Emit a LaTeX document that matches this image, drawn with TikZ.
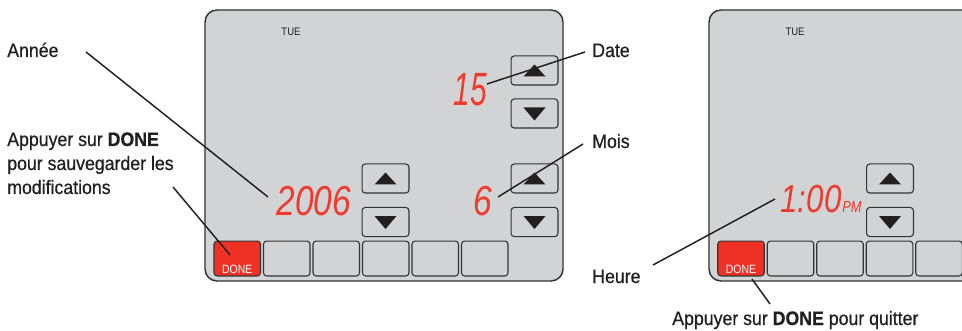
\documentclass[tikz,border=0pt]{standalone}
\usepackage{fontspec}
\setmainfont{Liberation Sans}[FakeStretch=0.91,FakeBold=0.6]
\newfontfamily\segfont{Liberation Sans}[FakeStretch=0.8]
\newfontfamily\smallfont{Liberation Sans}[FakeStretch=0.87]
\definecolor{panelgray}{HTML}{D1D3D4}
\definecolor{edgecol}{HTML}{333333}
\definecolor{donered}{HTML}{EE3124}
\definecolor{segred}{HTML}{EF3B2D}
\definecolor{txt}{HTML}{231F20}
\begin{document}
\begin{tikzpicture}[x=0.75pt,y=-0.75pt,
  panel/.style={draw=edgecol,line width=1.1pt,fill=panelgray,rounded corners=9pt},
  btn/.style={draw=edgecol,line width=0.8pt,fill=panelgray,rounded corners=2.4pt,
    minimum width=34.9pt,minimum height=26.2pt,inner sep=0pt},
  donebtn/.style={btn,fill=donered},
  arrbtn/.style={btn,minimum height=21.8pt,minimum width=35.2pt},
  tri/.style={fill=txt,draw=none},
  lab/.style={font=\fontsize{14.6}{18}\selectfont,text=txt,anchor=base west,inner sep=0pt,align=left},
  day/.style={font=\smallfont\fontsize{8.2}{9}\selectfont,text=txt,inner sep=0pt},
  donetxt/.style={font=\smallfont\fontsize{9}{10}\selectfont,text=white,anchor=base,inner sep=0pt},
  seg/.style={text=segred,anchor=base,inner sep=0pt},
  leader/.style={draw=txt,line width=1.1pt}]
\clip (0,0) rectangle (962,331);
\fill[white] (0,0) rectangle (962,331);

% ---------- left panel ----------
\draw[panel] (205,10) rectangle (563,281);
\node[day] (tue1) at (291,32) {TUE};

\node[donebtn] (b1) at (237.25,258.5) {};
\node[donetxt] (done1) at (237.25,273) {DONE};
\node[btn] (b2) at (286.75,258.5) {};
\node[btn] (b3) at (336.25,258.5) {};
\node[btn] (b4) at (385.75,258.5) {};
\node[btn] (b5) at (435.25,258.5) {};
\node[btn] (b6) at (484.75,258.5) {};

\node[arrbtn] (yup) at (385.5,178.5) {};
\node[arrbtn] (ydn) at (385.5,222) {};
\node[arrbtn] (dup) at (534.5,70.5) {};
\node[arrbtn] (ddn) at (534.5,113.5) {};
\node[arrbtn] (mup) at (534.5,178.5) {};
\node[arrbtn] (mdn) at (534.5,222) {};

\foreach \n in {yup,dup,mup}{
  \fill[tri] ([shift={(-11,6)}]\n.center) -- ([shift={(11,6)}]\n.center) -- ([shift={(0,-6)}]\n.center) -- cycle;}
\foreach \n in {ydn,ddn,mdn}{
  \fill[tri] ([shift={(-11,-6)}]\n.center) -- ([shift={(11,-6)}]\n.center) -- ([shift={(0,7)}]\n.center) -- cycle;}

\node[seg,font=\segfont\itshape\fontsize{35}{40}\selectfont] (date) at (470,106) {\scalebox{0.8}[1]{15}};
\node[seg,font=\segfont\itshape\fontsize{31.4}{34}\selectfont] (year) at (314,215) {2006};
\node[seg,font=\segfont\itshape\fontsize{31.4}{34}\selectfont] (month) at (483,215) {6};

% ---------- right panel ----------
\draw[panel] (709,10) rectangle (1010,281);
\node[day] (tue2) at (795,32) {TUE};
\node[donebtn] (c1) at (741,258.5) {};
\node[donetxt] (done2) at (741,273) {DONE};
\node[btn] (c2) at (790.5,258.5) {};
\node[btn] (c3) at (840,258.5) {};
\node[btn] (c4) at (889.5,258.5) {};
\node[btn] (c5) at (939,258.5) {};
\node[arrbtn] (hup) at (890,178.5) {};
\node[arrbtn] (hdn) at (890,222) {};
\fill[tri] ([shift={(-11,6)}]hup.center) -- ([shift={(11,6)}]hup.center) -- ([shift={(0,-6)}]hup.center) -- cycle;
\fill[tri] ([shift={(-11,-6)}]hdn.center) -- ([shift={(11,-6)}]hdn.center) -- ([shift={(0,7)}]hdn.center) -- cycle;
\node[seg,font=\segfont\itshape\fontsize{29.3}{32}\selectfont] (time) at (811,213) {1:00};
\node[seg,anchor=base west,font=\segfont\itshape\fontsize{12}{13}\selectfont] (pm) at (842,213) {PM};

% ---------- labels ----------
\node[lab] (annee) at (7,57) {Année};
\node[lab] (savelab) at (7,194) {Appuyer sur \textbf{DONE}\\pour sauvegarder les\\modifications};
\node[lab] (datelab) at (592,57) {Date};
\node[lab] (moislab) at (592,148) {Mois};
\node[lab] (heurelab) at (592,283) {Heure};
\node[lab] (quitlab) at (672,325) {Appuyer sur \textbf{DONE} pour quitter};

% ---------- leaders ----------
\coordinate (anneeA) at (86,52);   \coordinate (anneeB) at (268,197);
\coordinate (saveA) at (173,187);  \coordinate (saveB) at (230,255);
\coordinate (dateA) at (585,52);   \coordinate (dateB) at (487,84);
\coordinate (moisA) at (583,144);  \coordinate (moisB) at (498,197);
\coordinate (heureA) at (653,265); \coordinate (heureB) at (775,199);
\coordinate (quitA) at (770,304);  \coordinate (quitB) at (752,279);
\draw[leader] (anneeA) -- (anneeB);
\draw[leader] (saveA) -- (saveB);
\draw[leader] (dateA) -- (dateB);
\draw[leader] (moisA) -- (moisB);
\draw[leader] (heureA) -- (heureB);
\draw[leader] (quitA) -- (quitB);
\end{tikzpicture}
\end{document}
